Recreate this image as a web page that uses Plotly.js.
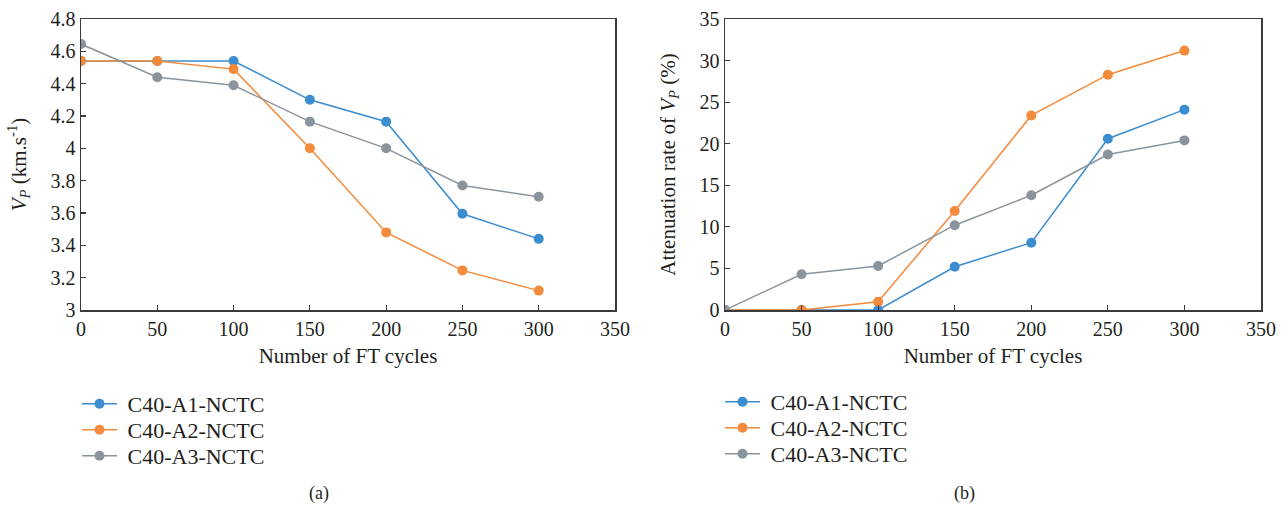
<!DOCTYPE html>
<html>
<head>
<meta charset="utf-8">
<script src="https://cdn.plot.ly/plotly-3.0.1.min.js"></script>
<style>html,body{margin:0;padding:0;background:#fff;}#chart{width:1288px;height:507px;}</style>
</head>
<body>
<div id="chart"></div>
<script>
const cycles = [0, 50, 100, 150, 200, 250, 300];
const seriesNames = ["C40-A1-NCTC", "C40-A2-NCTC", "C40-A3-NCTC"];
const vpA1 = [4.54, 4.54, 4.54, 4.30, 4.165, 3.595, 3.44];
const vpA2 = [4.54, 4.54, 4.49, 4.00, 3.48, 3.245, 3.12];
const vpA3 = [4.645, 4.44, 4.39, 4.165, 4.00, 3.77, 3.70];
const attA1 = [0, 0, 0, 5.2, 8.1, 20.6, 24.1];
const attA2 = [0, 0, 1.0, 11.9, 23.4, 28.3, 31.2];
const attA3 = [0, 4.3, 5.3, 10.2, 13.8, 18.7, 20.4];
const colors = ["#3c8dcf", "#f48a3b", "#8b949c"];

const FONT = "Liberation Serif, Times New Roman, serif";
const TXT = "#231f20";
const W = 1288, H = 507;
const vpSeries = [vpA1, vpA2, vpA3];
const attSeries = [attA1, attA2, attA3];
const traces = [];
const legends = {};
const legFont = {family: FONT, size: 22, color: TXT};
const leftRows = [404, 430, 456];
const rightRows = [402, 428, 454];
function legendDef(px, py) {
  return {x: px / W, y: 1 - py / H, xanchor: "left", yanchor: "middle",
    font: legFont, bgcolor: "rgba(0,0,0,0)", itemwidth: 35, borderwidth: 0};
}
vpSeries.forEach((ys, i) => {
  const lg = i === 0 ? "legend" : "legend" + (i + 1);
  legends[lg] = legendDef(77, leftRows[i]);
  traces.push({x: cycles, y: ys, name: "\u00a0" + seriesNames[i], type: "scatter", mode: "lines+markers",
    line: {color: colors[i], width: 1.5}, marker: {color: colors[i], size: 10},
    xaxis: "x", yaxis: "y", legend: lg});
});
attSeries.forEach((ys, i) => {
  const lg = "legend" + (i + 4);
  legends[lg] = legendDef(720, rightRows[i]);
  traces.push({x: cycles, y: ys, name: "\u00a0" + seriesNames[i], type: "scatter", mode: "lines+markers",
    line: {color: colors[i], width: 1.5}, marker: {color: colors[i], size: 10},
    xaxis: "x2", yaxis: "y2", legend: lg});
});

const axisCommon = {
  showgrid: false, zeroline: false, showline: true, mirror: true,
  linecolor: "#3a3a3a", linewidth: 1.5,
  ticks: "inside", ticklen: 5, tickwidth: 1.2, tickcolor: "#3a3a3a",
  tickfont: {family: FONT, size: 20, color: TXT},
  fixedrange: true
};
const yDom = [1 - 310 / H, 1 - 19 / H];
const titleFont = {family: FONT, size: 21, color: TXT};
const layout = Object.assign({
  width: W, height: H,
  margin: {l: 0, r: 0, t: 0, b: 0},
  paper_bgcolor: "#fff", plot_bgcolor: "#fff",
  font: {family: FONT, color: TXT},
  showlegend: true,
  xaxis: Object.assign({}, axisCommon, {
    domain: [81 / W, 615 / W], range: [0, 350], dtick: 50, tick0: 0, anchor: "y",
    title: {text: "Number of FT cycles", font: titleFont, standoff: 10}
  }),
  yaxis: Object.assign({}, axisCommon, {
    domain: yDom, range: [3, 4.8], dtick: 0.2, tick0: 3, anchor: "x",
    title: {text: "<i>V</i><sub><i>P</i></sub> (km.s<sup>-1</sup>)", font: titleFont, standoff: 18}
  }),
  xaxis2: Object.assign({}, axisCommon, {
    domain: [725 / W, 1261 / W], range: [0, 350], dtick: 50, tick0: 0, anchor: "y2",
    title: {text: "Number of FT cycles", font: titleFont, standoff: 10}
  }),
  yaxis2: Object.assign({}, axisCommon, {
    domain: yDom, range: [0, 35], dtick: 5, tick0: 0, anchor: "x2",
    title: {text: "Attenuation rate of <i>V</i><sub><i>P</i></sub> (%)", font: titleFont, standoff: 18}
  }),
  annotations: [
    {text: "(a)", x: 319 / W, y: 1 - 493 / H, xref: "paper", yref: "paper", showarrow: false,
      xanchor: "center", yanchor: "middle", font: {family: FONT, size: 18, color: TXT}},
    {text: "(b)", x: 964 / W, y: 1 - 493 / H, xref: "paper", yref: "paper", showarrow: false,
      xanchor: "center", yanchor: "middle", font: {family: FONT, size: 18, color: TXT}}
  ]
}, legends);
Plotly.newPlot("chart", traces, layout, {displayModeBar: false, staticPlot: true});
</script>
</body>
</html>
